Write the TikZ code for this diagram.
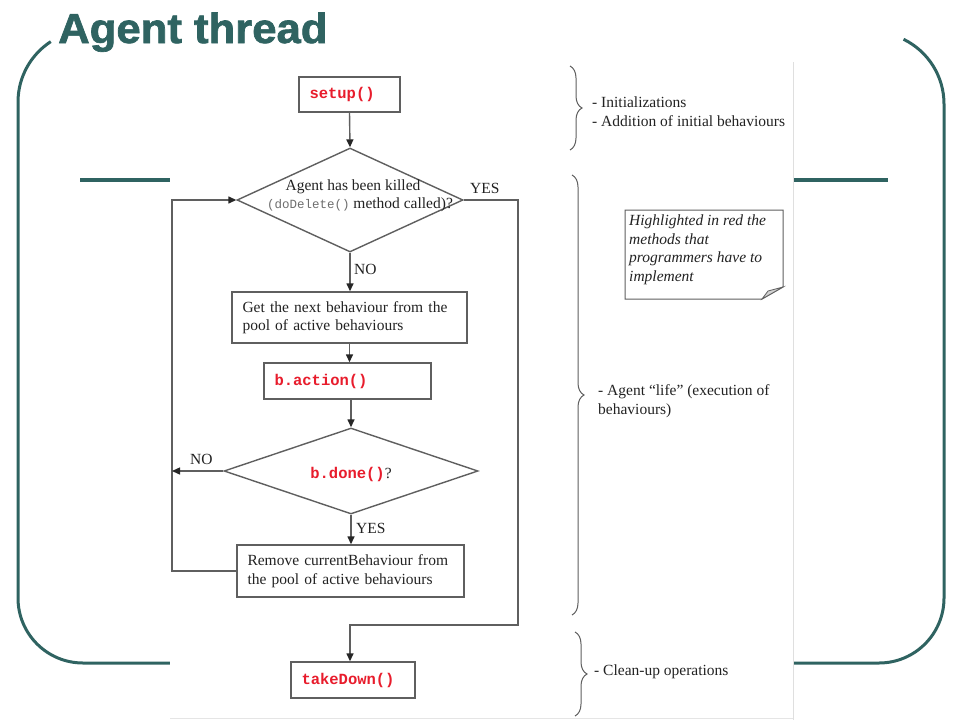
\documentclass[tikz,border=0pt]{standalone}
\usepackage{fontspec}
\setmainfont{Liberation Serif}
\newfontfamily\monof{Liberation Mono}
\newfontfamily\titlef[BoldFeatures={FakeBold=1.6}]{Liberation Sans}
\usetikzlibrary{arrows.meta,shapes.geometric,decorations.pathreplacing}
\definecolor{teal1}{RGB}{47,99,97}
\definecolor{lc}{RGB}{95,95,95}
\definecolor{tc}{RGB}{34,34,34}
\definecolor{redc}{RGB}{232,28,44}
\definecolor{codegray}{RGB}{110,110,110}
\newcommand\bodyf{\fontsize{15.5}{18.5}\selectfont}
\begin{document}
\begin{tikzpicture}[x=1pt,y=-1pt,
  box/.style={draw=lc, line width=1.4pt, fill=white, inner xsep=10.5pt, inner ysep=0pt, align=left, font=\bodyf, text=tc},
  codebox/.style={box, font=\monof\bfseries\fontsize{15.5}{18}\selectfont, text=redc},
  dia/.style={draw=lc, line width=1.4pt, diamond, inner sep=0pt},
  arr/.style={draw=lc, line width=1.4pt, -{Triangle[length=8pt,width=7pt,color=black!85]}},
  lbl/.style={font=\bodyf, text=tc, inner sep=0pt, anchor=base west},
  ctxt/.style={font=\bodyf, text=tc, inner sep=0pt, anchor=base},
  brc/.style={draw=lc, line width=1pt, decorate, decoration={brace, amplitude=12pt}},
  frame/.style={draw=teal1, line width=3pt}
]
\useasboundingbox (0,0) rectangle (960,720);
% slide frame
\draw[frame] (90,102) ++(237:72) arc[start angle=237, end angle=180, radius=72]
  -- (18,598) arc[start angle=180, end angle=90, radius=65]
  -- (879,663) arc[start angle=90, end angle=0, radius=65]
  -- (944,104) arc[start angle=0, end angle=-64, radius=72];
\draw[teal1, line width=3.5pt] (80,180) -- (170,180);
\draw[teal1, line width=3.5pt] (793,180) -- (888,180);
% picture area
\fill[white] (170,62) rectangle (793,720);
\draw[gray!25, line width=1pt] (793,62) -- (793,720);
\draw[gray!20, line width=1pt] (170,718) -- (793,718);
% title
\node[anchor=base west, inner sep=0pt, text=teal1, font=\titlef\bfseries\fontsize{42}{42}\selectfont] (title) at (58,43) {\scalebox{1.04}[1]{Agent thread}};
% flowchart nodes
\node[codebox, text width=80pt, minimum height=35pt] (setup) at (349.5,94.5) {setup()};
\node[dia, minimum width=226pt, minimum height=104pt] (d1) at (350,200) {};
\node[ctxt] (d1a) at (353,190) {Agent has been killed};
\node[ctxt] (d1b) at (360,208) {{\monof\color{codegray}\fontsize{12.5}{14}\selectfont(doDelete()} method called)?};
\node[box, text width=214pt, minimum height=51pt] (next) at (349.5,317.5) {Get the next behaviour from the\\pool of active behaviours};
\node[codebox, text width=146pt, minimum height=36pt] (action) at (347.5,381) {b.action()};
\node[dia, minimum width=254pt, minimum height=86pt] (d2) at (351,471) {};
\node[ctxt] (d2t) at (351,478) {{\monof\bfseries\color{redc}b.done()}?};
\node[box, text width=206pt, minimum height=52pt] (remove) at (350.5,571) {Remove currentBehaviour from\\the pool of active behaviours};
\node[codebox, text width=103pt, minimum height=36pt] (takedown) at (353,680) {takeDown()};
% labels
\node[lbl] (yes1) at (470,193) {YES};
\node[lbl] (no1) at (354,274) {NO};
\node[lbl] (no2) at (190,464) {NO};
\node[lbl] (yes2) at (356,533) {YES};
% connectors
\coordinate (lp) at (172,200);
\coordinate (yr) at (518,625);
\draw[arr] (setup.south) -- (d1.north);
\draw[arr] (d1.south) -- (d1.south |- next.north);
\draw[arr] (next.south) -- (next.south |- action.north);
\draw[arr] (action.south -| d2.north) -- (d2.north);
\draw[arr] (d2.south) -- (d2.south |- remove.north);
\draw[arr] (remove.west) -| (lp) -- (d1.west);
\draw[arr] (d2.west) -- (d2.west -| lp);
\draw[arr] (d1.east) -| (yr) -| ([xshift=-3pt]takedown.north);
% braces
\draw[brc] (570,66) -- (570,150);
\draw[brc] (572,175) -- (572,615);
\draw[brc] (575,632) -- (575,716);
\node[lbl] (c1a) at (592,107) {- Initializations};
\node[lbl] (c1b) at (592,126) {- Addition of initial behaviours};
\node[lbl] (c2a) at (598,395) {- Agent “life” (execution of};
\node[lbl] (c2b) at (598,414) {behaviours)};
\node[lbl] (c3) at (594,675) {- Clean-up operations};
% note
\draw[draw=lc, line width=1pt, fill=white] (625,210) -- (783,210) -- (783,287) -- (762,299) -- (625,299) -- cycle;
\draw[draw=lc, line width=0.8pt, fill=gray!35] (783,287) -- (762,299) -- (768,291) -- cycle;
\node[font=\itshape\bodyf, text=tc, inner sep=0pt, anchor=north west, align=left] (note) at (629,215) {Highlighted in red the\\methods that\\programmers have to\\implement};
\end{tikzpicture}
\end{document}
